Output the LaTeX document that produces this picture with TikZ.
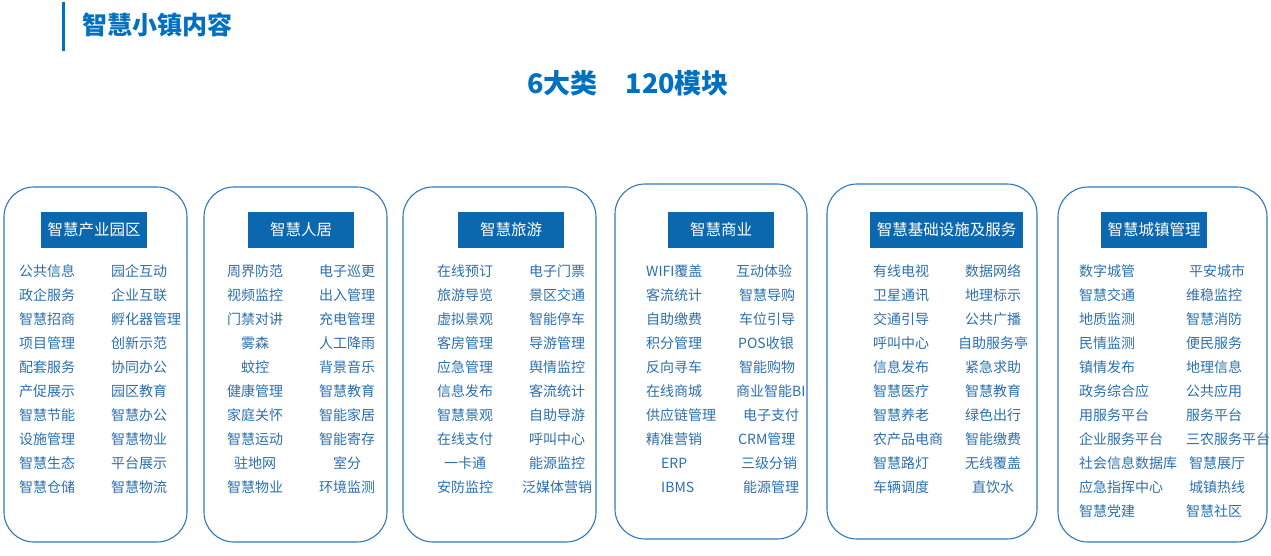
\documentclass[tikz,border=0pt]{standalone}
\usepackage{fontspec}
\setmainfont{Noto Sans CJK SC}
\definecolor{tblue}{HTML}{0070C0}
\definecolor{hblue}{HTML}{0B68AF}
\definecolor{iblue}{HTML}{2B6FAD}
\definecolor{bblue}{HTML}{2E78BE}
\tikzset{
  panel/.style={draw=bblue, line width=1.1pt, rounded corners=30pt},
  head/.style={fill=hblue, text=white, font=\fontsize{15.5}{18}\selectfont, inner sep=0pt, minimum height=36pt},
  item/.style={text=iblue, font=\fontsize{14}{16}\selectfont, inner sep=0pt},
}
\begin{document}
\begin{tikzpicture}[x=1pt,y=-1pt]
\useasboundingbox (0,0) rectangle (1271,556);
% header
\draw[tblue, line width=3pt] (63.5,2) -- (63.5,51);
\node[anchor=west, inner sep=0pt, text=tblue, font=\fontsize{25}{28}\selectfont\bfseries] (title) at (82,25) {智慧小镇内容};
\node[inner sep=0pt, text=tblue, font=\fontsize{27}{30}\selectfont\bfseries] (sub) at (628,83) {6大类\hspace{28pt}120模块};
% panels
\draw[panel] (4,187) rectangle (187,542);
\draw[panel] (204,187) rectangle (387,542);
\draw[panel] (403,187) rectangle (596,542);
\draw[panel] (615,184) rectangle (807,539);
\draw[panel] (827,184) rectangle (1037,539);
\draw[panel] (1058,187) rectangle (1267,542);
% headings
\node[head, minimum width=106pt] (h1) at (94,230) {智慧产业园区};
\node[head, minimum width=106pt] (h2) at (301,230) {智慧人居};
\node[head, minimum width=106pt] (h3) at (511,230) {智慧旅游};
\node[head, minimum width=106pt] (h4) at (721,230) {智慧商业};
\node[head, minimum width=153pt] (h5) at (946.5,230) {智慧基础设施及服务};
\node[head, minimum width=106pt] (h6) at (1154,230) {智慧城镇管理};
% panel 1
\foreach \t [count=\i] in {公共信息,政企服务,智慧招商,项目管理,配套服务,产促展示,智慧节能,设施管理,智慧生态,智慧仓储}
  \node[item, anchor=west] (p1a\i) at (19,{271+24*(\i-1)}) {\t};
\foreach \t [count=\i] in {园企互动,企业互联,孵化器管理,创新示范,协同办公,园区教育,智慧办公,智慧物业,平台展示,智慧物流}
  \node[item, anchor=west] (p1b\i) at (111,{271+24*(\i-1)}) {\t};
% panel 2
\foreach \t [count=\i] in {周界防范,视频监控,门禁对讲,雾森,蚊控,健康管理,家庭关怀,智慧运动,驻地网,智慧物业}
  \node[item] (p2a\i) at (255,{271+24*(\i-1)}) {\t};
\foreach \t [count=\i] in {电子巡更,出入管理,充电管理,人工降雨,背景音乐,智慧教育,智能家居,智能寄存,室分,环境监测}
  \node[item] (p2b\i) at (347,{271+24*(\i-1)}) {\t};
% panel 3
\foreach \t [count=\i] in {在线预订,旅游导览,虚拟景观,客房管理,应急管理,信息发布,智慧景观,在线支付,一卡通,安防监控}
  \node[item] (p3a\i) at (465,{271+24*(\i-1)}) {\t};
\foreach \t [count=\i] in {电子门票,景区交通,智能停车,导游管理,舆情监控,客流统计,自助导游,呼叫中心,能源监控,泛媒体营销}
  \node[item] (p3b\i) at (557,{271+24*(\i-1)}) {\t};
% panel 4
\foreach \t/\x [count=\i] in {WIFI覆盖/646,客流统计/646,自助缴费/646,积分管理/646,反向寻车/646,在线商城/646,供应链管理/646,精准营销/646,ERP/661,IBMS/661}
  \node[item, anchor=west] (p4a\i) at (\x,{271+24*(\i-1)}) {\t};
\foreach \t/\x [count=\i] in {互动体验/736,智慧导购/739,车位引导/739,POS收银/738,智能购物/739,商业智能BI/736,电子支付/743,CRM管理/738,三级分销/741,能源管理/743}
  \node[item, anchor=west] (p4b\i) at (\x,{271+24*(\i-1)}) {\t};
% panel 5
\foreach \t [count=\i] in {有线电视,卫星通讯,交通引导,呼叫中心,信息发布,智慧医疗,智慧养老,农产品电商,智慧路灯,车辆调度}
  \node[item, anchor=west] (p5a\i) at (873,{271+24*(\i-1)}) {\t};
\foreach \t [count=\i] in {数据网络,地理标示,公共广播,自助服务亭,紧急求助,智慧教育,绿色出行,智能缴费,无线覆盖,直饮水}
  \node[item] (p5b\i) at (993,{271+24*(\i-1)}) {\t};
% panel 6
\foreach \t [count=\i] in {数字城管,智慧交通,地质监测,民情监测,镇情发布,政务综合应,用服务平台,企业服务平台,社会信息数据库,应急指挥中心,智慧党建}
  \node[item, anchor=west] (p6a\i) at (1079,{271+24*(\i-1)}) {\t};
\foreach \t/\x [count=\i] in {平安城市/1189,维稳监控/1186,智慧消防/1186,便民服务/1186,地理信息/1186,公共应用/1186,服务平台/1186,三农服务平台/1186,智慧展厅/1189,城镇热线/1189,智慧社区/1186}
  \node[item, anchor=west] (p6b\i) at (\x,{271+24*(\i-1)}) {\t};
\end{tikzpicture}
\end{document}
